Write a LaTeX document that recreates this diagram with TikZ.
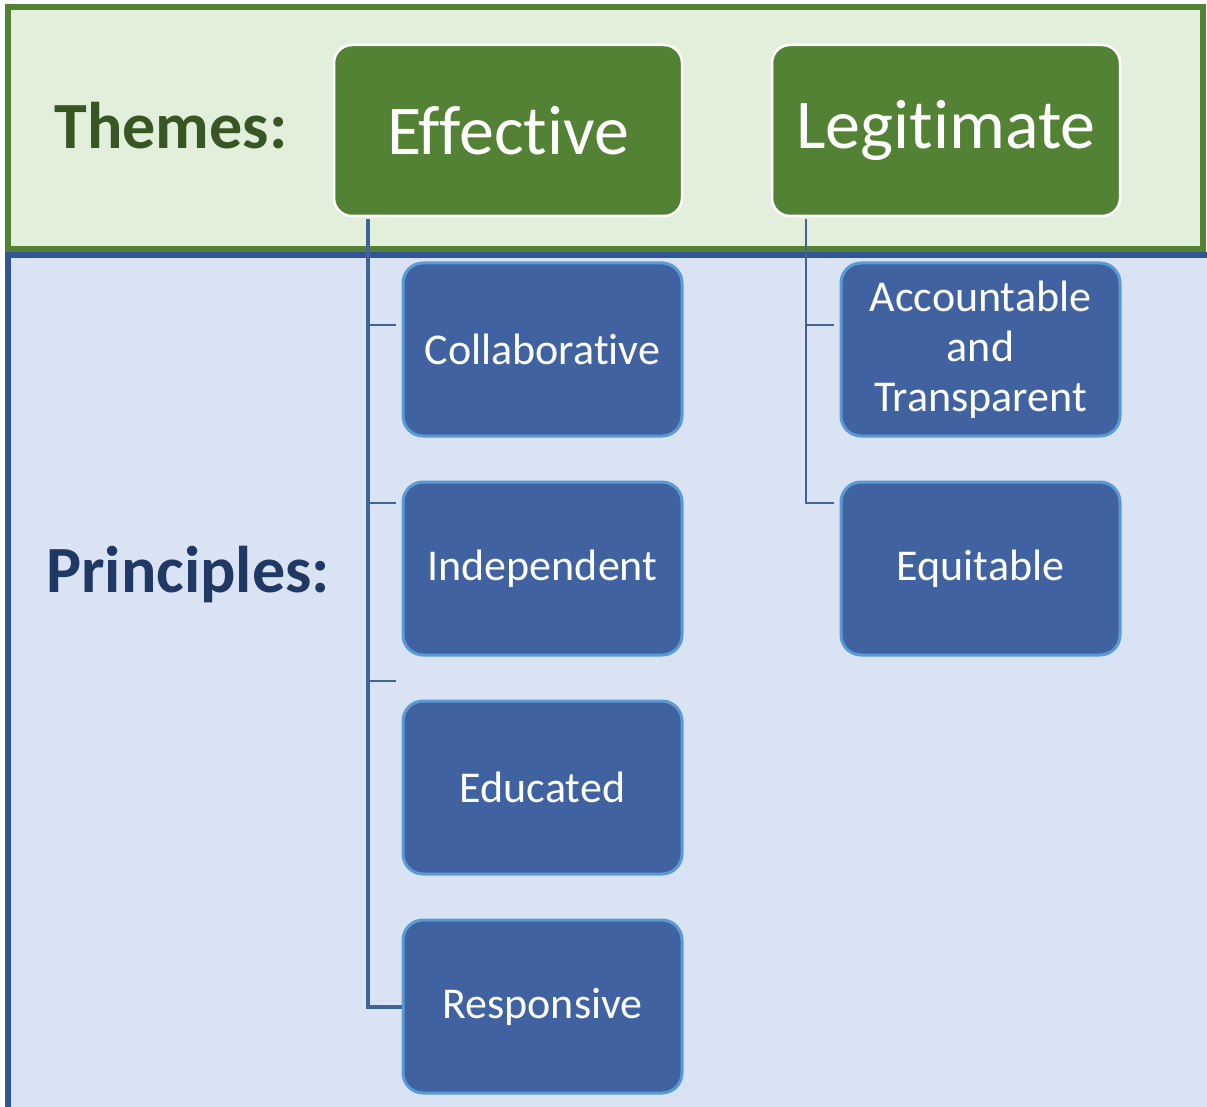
\documentclass[tikz,border=0pt]{standalone}
\usepackage{fontspec}
\setmainfont{Carlito}[RawFeature={-liga;-clig;-dlig;-calt}]
\usetikzlibrary{calc}
\definecolor{gborder}{HTML}{548235}
\definecolor{gfill}{HTML}{E2EFDA}
\definecolor{bborder}{HTML}{2F5597}
\definecolor{bfill}{HTML}{DAE3F3}
\definecolor{themefill}{HTML}{548235}
\definecolor{pfill}{HTML}{4062A0}
\definecolor{pborder}{HTML}{5B9BD5}
\definecolor{conncol}{HTML}{3F6498}
\definecolor{themetxt}{HTML}{375623}
\definecolor{princtxt}{HTML}{203864}
\tikzset{
  themebox/.style={fill=themefill, draw=white, line width=2.5pt, rounded corners=18pt,
    minimum width=348pt, minimum height=171pt, text=white, inner sep=0pt,
    font=\fontsize{70}{80}\selectfont},
  pbox/.style={fill=pfill, draw=pborder, line width=3pt, rounded corners=20pt,
    minimum width=279pt, minimum height=173pt, text=white, inner sep=0pt, align=center,
    font=\fontsize{44}{50}\selectfont},
  heading/.style={font=\fontsize{66}{76}\selectfont\bfseries, inner sep=0pt},
  trunk/.style={draw=conncol, line width=4pt},
  thin/.style={draw=conncol, line width=2.5pt},
}
\begin{document}
\begin{tikzpicture}[x=1pt,y=-1pt]
\useasboundingbox (0,0) rectangle (1207,1107);
% bands
\fill[bfill] (8,255) rectangle (1215,1115);
\draw[bborder, line width=6pt] (8,1115) -- (8,255) -- (1215,255);
\filldraw[fill=gfill, draw=gborder, line width=6pt] (8,7) rectangle (1203,249);
% headings
\node[heading, text=themetxt] (themes) at (171,126) {Themes:};
\node[heading, text=princtxt] (principles) at (188,575) {Principles:};
% theme boxes
\node[themebox] (eff) at (508,130.5) {Effective};
\node[themebox] (leg) at (946,130.5) {Legitimate};
% principle boxes
\node[pbox] (collab) at (542.5,349.5) {Collaborative};
\node[pbox] (indep) at (542.5,568.5) {Independent};
\node[pbox] (educ) at (542.5,787.5) {Educated};
\node[pbox] (resp) at (542.5,1006.5) {Responsive};
\node[pbox] (acct) at (980.5,349.5) {Accountable\\and\\Transparent};
\node[pbox] (equit) at (980.5,568.5) {Equitable};
% connectors: Effective
\coordinate (etop) at ([xshift=35pt, yshift=-1.5pt]eff.south west);
\draw[trunk] (etop) |- (resp.west);
\coordinate (et1) at (etop |- 0,325);
\coordinate (et2) at (etop |- 0,503);
\coordinate (et3) at (etop |- 0,681);
\draw[thin] (et1) -- ++(28,0);
\draw[thin] (et2) -- ++(28,0);
\draw[thin] (et3) -- ++(28,0);
% connectors: Legitimate
\coordinate (ltop) at ([xshift=35pt, yshift=-1.5pt]leg.south west);
\coordinate (lt1) at (ltop |- 0,325);
\coordinate (lt2) at (ltop |- 0,503);
\draw[thin] (ltop) -- (lt2) -- ++(28,0);
\draw[thin] (lt1) -- ++(28,0);
\end{tikzpicture}
\end{document}
